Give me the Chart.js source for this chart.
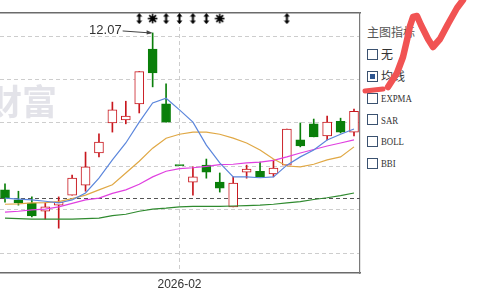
<!DOCTYPE html>
<html><head><meta charset="utf-8">
<script src="https://cdn.jsdelivr.net/npm/chart.js@4.4.1/dist/chart.umd.min.js"></script>
<style>
html,body{margin:0;padding:0;background:#fff;width:495px;height:296px;overflow:hidden;position:relative;font-family:"Noto Sans CJK SC","Liberation Sans",sans-serif;}
#wrap{position:absolute;left:0;top:0;width:361px;height:296px;}
.ttl{position:absolute;left:367px;top:24px;font-size:12px;line-height:16px;color:#555;white-space:nowrap;}
.row{position:absolute;left:367px;height:16px;display:flex;align-items:center;white-space:nowrap;}
.box{width:9px;height:9px;border:1px solid #3b5270;background:#fff;position:relative;margin-right:3px;flex:none;}
.box.on::after{content:"";position:absolute;left:2px;top:2px;width:5px;height:5px;background:#2d5590;}
.lbl{font-size:12px;line-height:16px;color:#333;}
.lat{font-family:"Liberation Serif",serif;font-size:11px;display:inline-block;transform:scaleX(0.8);transform-origin:left center;}
svg{position:absolute;left:0;top:0;pointer-events:none;}
</style></head>
<body>
<div id="wrap"><canvas id="c"></canvas></div>
<div id="panel"></div>
<svg width="495" height="296">
<polyline points="388,87 397,73 403,57 407,40 410,26 413,17 417,16 421,25 428,39 433,47 440,39 448,24 457,8 463,0" fill="none" stroke="#f15353" stroke-width="6.5" stroke-linecap="round" stroke-linejoin="round"/>
<polyline points="365,91 374,90 383,89" fill="none" stroke="#f15353" stroke-width="5" stroke-linecap="round"/>
</svg>
<script>
// ---- data ----
const opens  = [8.46,8.23,8.16,7.97,8.11,8.34,8.57,9.31,10.00,10.07,10.44,11.70,10.44,9.02,8.64,9.03,8.64,8.07,8.87,8.89,8.83,9.03,9.61,9.98,9.70,10.04,9.79];
const highs  = [8.60,8.43,8.30,8.16,8.30,8.80,9.33,9.75,10.48,10.50,11.18,12.07,10.90,9.02,8.99,9.17,8.85,8.76,9.03,9.10,9.15,9.86,10.00,10.09,10.16,10.11,10.32];
const lows   = [8.18,8.11,7.84,7.79,7.58,8.34,8.43,9.22,9.79,9.98,10.23,10.83,10.02,9.02,8.34,8.73,8.41,8.07,8.73,8.76,8.76,9.03,9.45,9.68,9.61,9.77,9.70];
const closes = [8.28,8.16,7.86,8.07,8.18,8.73,8.99,9.56,10.30,10.16,11.18,11.15,10.02,9.02,8.76,8.87,8.50,8.62,8.94,8.76,8.96,9.86,9.47,9.68,10.02,9.79,10.27];
const ma5  = [8.27,8.25,8.23,8.20,8.16,8.23,8.39,8.73,9.15,9.54,10.02,10.46,10.57,10.30,10.02,9.49,9.08,8.76,8.76,8.74,8.76,9.03,9.22,9.38,9.61,9.74,9.86];
const ma10 = [8.13,8.14,8.16,8.17,8.19,8.26,8.34,8.46,8.58,8.85,9.12,9.42,9.65,9.74,9.79,9.79,9.74,9.65,9.54,9.38,9.17,9.01,8.99,9.05,9.15,9.22,9.45];
const ma20 = [7.95,7.97,8.00,8.02,8.07,8.15,8.23,8.27,8.38,8.46,8.59,8.76,8.89,8.95,8.97,9.00,9.04,9.05,9.08,9.10,9.14,9.22,9.31,9.39,9.47,9.54,9.61];
const ma60 = [7.81,7.80,7.79,7.79,7.79,7.79,7.80,7.81,7.87,7.90,7.97,8.02,8.04,8.07,8.08,8.08,8.08,8.09,8.10,8.11,8.13,8.16,8.19,8.24,8.28,8.33,8.39];
const gridLevels = [7,8,9,10,11,12];
const xTickIndex = [13];
const xTickLabels = ['2026-02'];
const flagArrowIdx = [10,12,13,14,15,21];
const flagStarIdx = [11,16];
const flagLevel = 12.40;
const prevClose = 8.27;
const watermark = '东方财富';
const panelTitle = '主图指标';
const panelItems = ['无','均线','EXPMA','SAR','BOLL','BBI'];
const panelChecked = 1;

// ---- panel ----
const panel = document.getElementById('panel');
const t = document.createElement('div'); t.className='ttl'; t.textContent=panelTitle; panel.appendChild(t);
const rowCenters = [54,76,98,119.5,141,163];
panelItems.forEach((s,k)=>{
  const r=document.createElement('div'); r.className='row'; r.style.top=(rowCenters[k]-8)+'px';
  const b=document.createElement('div'); b.className='box'+(k===panelChecked?' on':''); r.appendChild(b);
  const l=document.createElement('span'); l.className='lbl'+(/^[A-Z]+$/.test(s)?' lat':''); l.textContent=s; r.appendChild(l);
  panel.appendChild(r);
});

// ---- chart ----
const UP='#c8161d', DOWN='#0a7f0a';
const idx = closes.map((_,i)=>i);
const isUp = idx.map(i=> closes[i]>opens[i] || (closes[i]===opens[i] && i>0 && closes[i]>=closes[i-1]));
const col = idx.map(i=> isUp[i]?UP:DOWN);

function mkArrow(){const c=document.createElement('canvas');c.width=7;c.height=11;const g=c.getContext('2d');g.fillStyle='#000';
  g.beginPath();g.moveTo(3.5,0);g.lineTo(6.5,3.5);g.lineTo(0.5,3.5);g.closePath();g.fill();
  g.beginPath();g.moveTo(3.5,11);g.lineTo(6.5,7.5);g.lineTo(0.5,7.5);g.closePath();g.fill();
  g.fillRect(2.5,3,2,5);return c;}
function mkStar(){const c=document.createElement('canvas');c.width=11;c.height=11;const g=c.getContext('2d');g.strokeStyle='#000';g.fillStyle='#000';g.lineWidth=1.6;
  for(let k=0;k<4;k++){const a=k*Math.PI/4;g.beginPath();g.moveTo(5.5-4.8*Math.cos(a),5.5-4.8*Math.sin(a));g.lineTo(5.5+4.8*Math.cos(a),5.5+4.8*Math.sin(a));g.stroke();}
  g.beginPath();g.arc(5.5,5.5,2.4,0,Math.PI*2);g.fill();return c;}

const deco = {
  id:'deco',
  beforeDraw(chart){
    const ctx=chart.ctx; ctx.save();
    ctx.font='bold 35px "Noto Sans CJK SC"'; ctx.fillStyle='#e3e3e9'; ctx.textAlign='right'; ctx.textBaseline='middle';
    ctx.fillText(watermark, 57, 102); ctx.restore();
  },
  beforeDatasetsDraw(chart){
    const {ctx, chartArea:a, scales:{y}} = chart; const py=Math.round(y.getPixelForValue(prevClose))+0.5;
    ctx.save(); ctx.strokeStyle='#555'; ctx.lineWidth=1; ctx.setLineDash([4,3]);
    ctx.beginPath(); ctx.moveTo(a.left,py); ctx.lineTo(a.right,py); ctx.stroke(); ctx.restore();
  },
  afterDatasetsDraw(chart){
    const {ctx, scales:{x,y}} = chart;
    const hi=Math.max(...highs); const i=highs.indexOf(hi);
    const px=x.getPixelForValue(i), py=y.getPixelForValue(hi);
    ctx.save(); ctx.strokeStyle='#444'; ctx.fillStyle='#444'; ctx.lineWidth=1;
    ctx.beginPath(); ctx.moveTo(px-30,py-2); ctx.lineTo(px-2,py); ctx.stroke();
    ctx.beginPath(); ctx.moveTo(px,py); ctx.lineTo(px-6,py-2.8); ctx.lineTo(px-6,py+1.6); ctx.closePath(); ctx.fill();
    ctx.font='13px "Liberation Sans"'; ctx.fillStyle='#333'; ctx.textAlign='right'; ctx.textBaseline='middle';
    ctx.fillText(hi.toFixed(2), px-31, py-2.5);
    ctx.restore();
  }
};

const lineDs = (d,c)=>({type:'line', data:d.map((v,i)=>({x:i,y:v})), borderColor:c, borderWidth:1.2, pointRadius:0, tension:0, order:1});

new Chart(document.getElementById('c'), {
  type:'bar',
  data:{datasets:[
    {type:'bar', data:idx.map(i=>({x:i,y:[lows[i],highs[i]]})), backgroundColor:col, borderWidth:0, barThickness:1, grouped:false, order:3},
    {type:'bar', data:idx.map(i=>({x:i,y:[Math.min(opens[i],closes[i]),Math.max(opens[i],closes[i])]})),
      backgroundColor:idx.map(i=>isUp[i]?'#ffffff':DOWN), borderColor:col, borderWidth:1, borderSkipped:false, barThickness:9, minBarLength:1, grouped:false, order:2},
    lineDs(ma5,'#5b86dc'), lineDs(ma10,'#e0a845'), lineDs(ma20,'#e040e0'), lineDs(ma60,'#2f8a2f'),
    {type:'line', showLine:false, data:flagArrowIdx.map(i=>({x:i,y:flagLevel})), pointStyle:mkArrow(), pointRadius:5, order:0},
    {type:'line', showLine:false, data:flagStarIdx.map(i=>({x:i,y:flagLevel})), pointStyle:mkStar(), pointRadius:5, order:0}
  ]},
  options:{
    responsive:true, maintainAspectRatio:false, animation:false,
    layout:{autoPadding:false, padding:{left:0,right:1,top:13,bottom:0.5}},
    plugins:{legend:{display:false}, tooltip:{enabled:false}},
    scales:{
      x:{type:'linear', position:'bottom', min:-0.3725, max:26.447, offset:false,
        afterBuildTicks:s=>{s.ticks=xTickIndex.map(v=>({value:v}));},
        ticks:{padding:4, color:'#333', font:{family:'"Liberation Sans"', size:12}, maxRotation:0, autoSkip:false,
          callback:(v)=>xTickLabels[xTickIndex.indexOf(v)]},
        grid:{color:'#cdcdcd', lineWidth:1, drawTicks:false, offset:false},
        border:{display:true, color:'#6b6b6b', width:1.5, dash:[4,3]}},
      x2:{type:'linear', position:'top', min:0, max:1, offset:false, ticks:{display:false}, grid:{display:false, drawTicks:false},
        border:{display:true, color:'#6b6b6b', width:1.5}},
      y:{type:'linear', position:'right', min:6.547, max:12.529,
        afterBuildTicks:s=>{s.ticks=gridLevels.map(v=>({value:v}));},
        ticks:{display:false}, grid:{color:'#cdcdcd', lineWidth:1, drawTicks:false},
        border:{display:true, color:'#7a7a7a', width:1.2, dash:[4,3]}}
    }
  },
  plugins:[deco]
});
</script>
</body></html>
